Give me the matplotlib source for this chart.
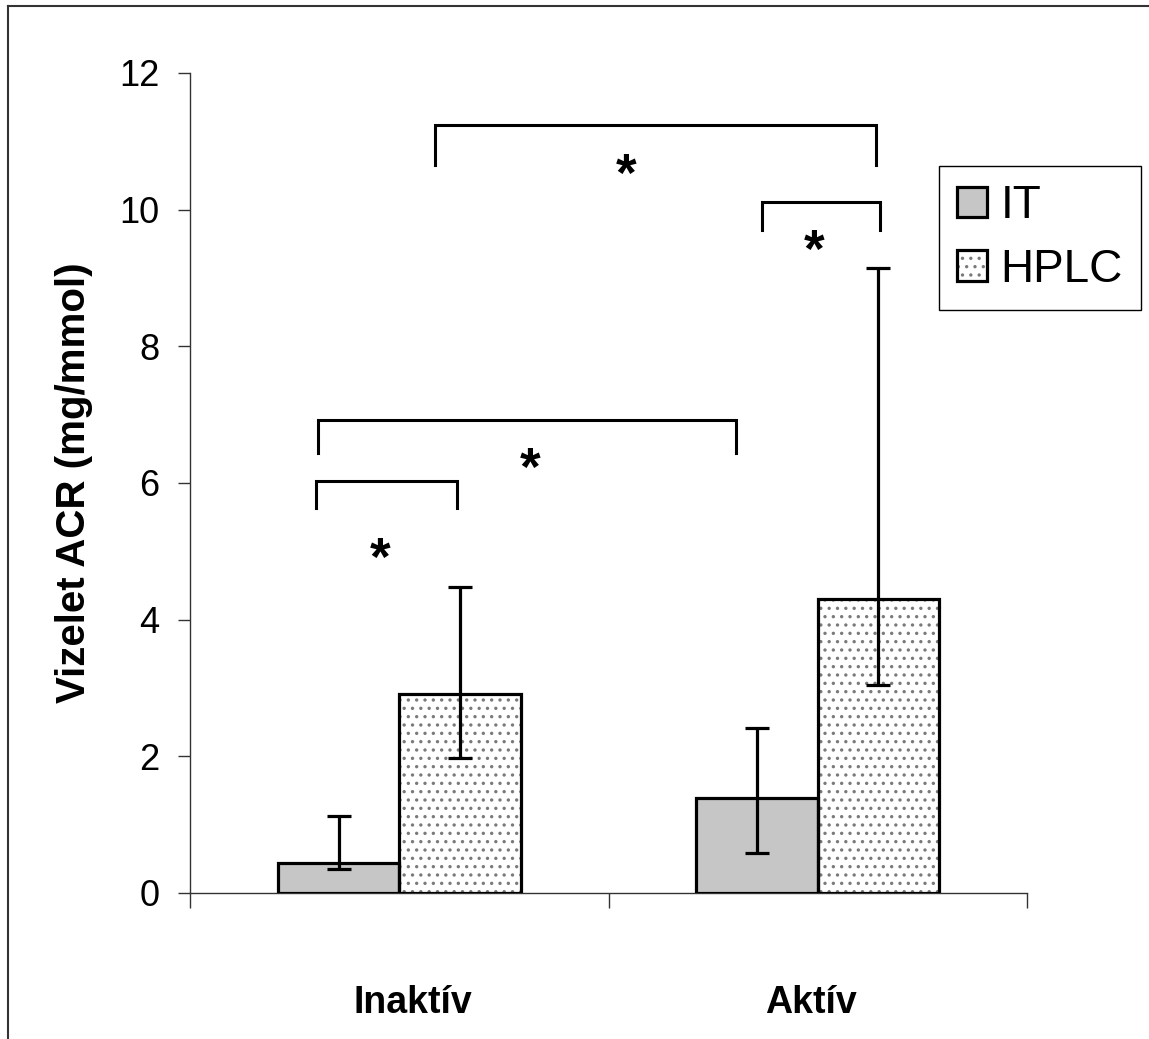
import numpy as np
import matplotlib
matplotlib.use("Agg")
import matplotlib.pyplot as plt
from matplotlib.patches import Patch
from matplotlib.lines import Line2D
from matplotlib.legend_handler import HandlerTuple
import matplotlib.transforms as mtransforms

plt.rcParams['font.family'] = ['Liberation Sans', 'DejaVu Sans']
plt.rcParams['hatch.linewidth'] = 1.2

groups = ['Inaktív', 'Aktív']
series = ['IT', 'HPLC']
means = {'IT': [0.44, 1.39], 'HPLC': [2.91, 4.30]}
err_lo = {'IT': [0.35, 0.58], 'HPLC': [1.97, 3.04]}
err_hi = {'IT': [1.12, 2.42], 'HPLC': [4.48, 9.15]}

# significance brackets: x start, x end, y top, y bottom (left), y bottom (right)
brackets = [
    (0.585, 1.639, 11.24, 10.65, 10.65),
    (1.367, 1.649, 10.11, 9.70, 9.70),
    (0.306, 1.305, 6.92, 6.44, 6.44),
    (0.301, 0.638, 6.03, 5.63, 5.63),
]
stars = [(1.042, 10.67), (1.491, 9.56), (0.812, 6.38), (0.454, 5.06)]

fig = plt.figure(figsize=(11.49, 10.39), dpi=100)
ax = fig.add_axes([190/1149, 1-893/1039, 837/1149, 820/1039])

centers = np.arange(len(groups)) + 0.5
width = 0.29
offsets = {'IT': -width/2, 'HPLC': width/2}
fills = {'IT': '#c6c6c6', 'HPLC': 'white'}
hatches = {'IT': None, 'HPLC': '..'}

for s in series:
    x = centers + offsets[s]
    ax.bar(x, means[s], width, color=fills[s], hatch=hatches[s],
           edgecolor='#7a7a7a', linewidth=0, zorder=2)
    ax.bar(x, means[s], width, fill=False, edgecolor='black',
           linewidth=2.3, zorder=3)
    vals = np.array(means[s])
    yerr = [vals - np.array(err_lo[s]), np.array(err_hi[s]) - vals]
    ax.errorbar(x, vals, yerr=yerr, fmt='none', ecolor='black',
                elinewidth=2.3, capsize=8.3, capthick=2.3, zorder=4)

for x0, x1, yt, yl, yr in brackets:
    ax.plot([x0, x0, x1, x1], [yl, yt, yt, yr], color='black', lw=2.2,
            solid_joinstyle='miter', clip_on=False, zorder=5)

star_size = 38
trans = mtransforms.offset_copy(ax.transData, fig=fig, x=0, y=-0.52*star_size, units='points')
for sx, sy in stars:
    ax.text(sx, sy, '*', fontsize=star_size, ha='center', va='baseline',
            fontweight='bold', transform=trans)

ax.set_xlim(0, 2)
ax.set_ylim(0, 12)
ax.set_yticks(np.arange(0, 13, 2))
ax.tick_params(axis='y', labelsize=26, length=9, width=1, pad=13, color='#333333')
ax.set_xticks([0, 1, 2])
ax.set_xticklabels([])
ax.tick_params(axis='x', which='major', length=11, width=1, color='#333333')
ax.set_xticks(centers, minor=True)
ax.set_xticklabels(groups, minor=True, fontsize=27, fontweight='bold')
ax.tick_params(axis='x', which='minor', length=0, pad=66)
# Excel places the category labels slightly off the group centres
for lbl, dx in zip(ax.get_xticklabels(minor=True), [10, -5]):
    lbl.set_transform(lbl.get_transform() + mtransforms.ScaledTranslation(dx/72, 0, fig.dpi_scale_trans))

ax.set_ylabel('Vizelet ACR (mg/mmol)', fontsize=29, fontweight='bold')
ax.yaxis.set_label_coords(-0.116, 0.5)

for side in ['top', 'right']:
    ax.spines[side].set_visible(False)
for side in ['left', 'bottom']:
    ax.spines[side].set_color('#333333')
    ax.spines[side].set_linewidth(1)

# legend
h_it = (Patch(facecolor=fills['IT'], edgecolor='black', linewidth=2.3),)
h_hp = (Patch(facecolor='white', hatch='..', edgecolor='#7a7a7a', linewidth=0),
        Patch(fill=False, edgecolor='black', linewidth=2.3))
leg = ax.legend([h_it, h_hp], series, handler_map={tuple: HandlerTuple(ndivide=1)},
                loc='upper left', bbox_to_anchor=(939/1149, 1-166/1039),
                bbox_transform=fig.transFigure, borderaxespad=0,
                fontsize=33, frameon=True, fancybox=False, framealpha=1,
                handlelength=0.64, handleheight=0.64, handletextpad=0.3,
                labelspacing=0.42, borderpad=0.4)
leg.get_frame().set_edgecolor('black')
leg.get_frame().set_linewidth(1)

# chart frame (left and top edges visible)
fig.add_artist(Line2D([7.5/1149, 7.5/1149], [0, 1-6/1039], transform=fig.transFigure,
                      color='#333333', lw=1.5))
fig.add_artist(Line2D([7.5/1149, 1], [1-6/1039, 1-6/1039], transform=fig.transFigure,
                      color='#333333', lw=1.5))

fig.savefig('out.png', dpi=100)
